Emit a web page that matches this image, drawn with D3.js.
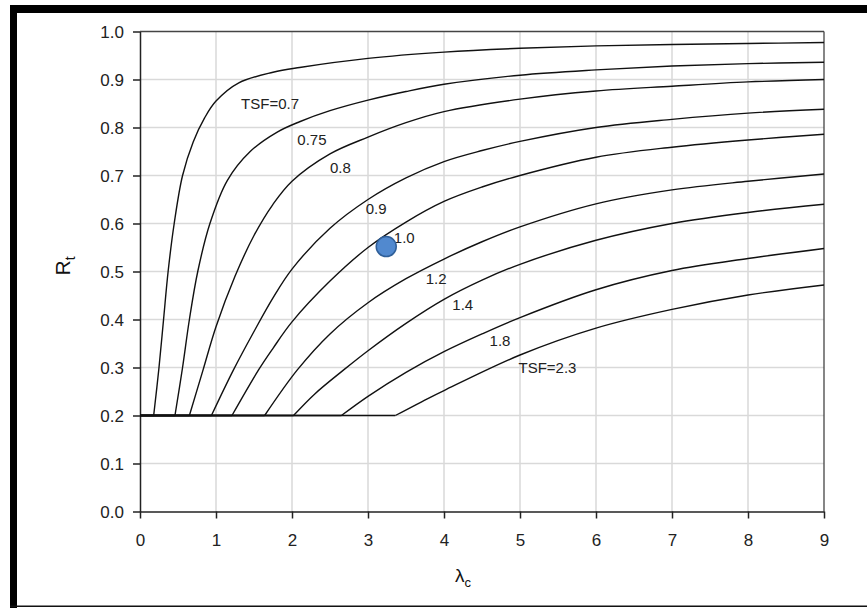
<!DOCTYPE html>
<html>
<head>
<meta charset="utf-8">
<script src="https://cdn.jsdelivr.net/npm/d3@7/dist/d3.min.js"></script>
<style>
  html, body { margin: 0; padding: 0; background: #fff; }
  svg { display: block; font-family: "Liberation Sans", Arial, sans-serif; }
</style>
</head>
<body>
<svg id="chart" width="867" height="608"></svg>
<script>
// ---- data ----
const tsfLabels = ["0.7", "0.75", "0.8", "0.9", "1.0", "1.2", "1.4", "1.8", "2.3"];
const curve07  = [[0,0.2],[0.18,0.2],[0.25,0.3],[0.31,0.4],[0.37,0.5],[0.45,0.6],[0.56,0.7],[0.7,0.77],[0.85,0.82],[1.0,0.855],[1.3,0.893],[1.75,0.915],[2.1,0.925],[3,0.944],[4,0.957],[5,0.965],[6,0.97],[7,0.973],[8,0.975],[9,0.977]];
const curve075 = [[0,0.2],[0.46,0.2],[0.56,0.3],[0.65,0.4],[0.76,0.5],[0.92,0.6],[1.15,0.69],[1.45,0.75],[1.8,0.79],[2.1,0.812],[2.5,0.835],[3,0.857],[3.5,0.875],[4,0.89],[5,0.909],[6,0.92],[7,0.928],[8,0.933],[9,0.936]];
const curve08  = [[0,0.2],[0.65,0.2],[0.83,0.295],[1.0,0.385],[1.25,0.49],[1.5,0.575],[1.75,0.64],[2,0.688],[2.5,0.745],[3,0.78],[3.5,0.81],[4,0.833],[5,0.859],[6,0.876],[7,0.886],[8,0.895],[9,0.9]];
const curve09  = [[0,0.2],[0.94,0.2],[1.23,0.295],[1.5,0.375],[1.75,0.445],[2,0.505],[2.5,0.59],[3,0.65],[3.5,0.695],[4,0.729],[4.5,0.752],[5,0.771],[6,0.80],[7,0.817],[8,0.83],[9,0.838]];
const curve10  = [[0,0.2],[1.21,0.2],[1.56,0.295],[1.75,0.34],[2,0.395],[2.5,0.48],[3,0.55],[3.5,0.603],[4,0.646],[4.5,0.676],[5,0.70],[6,0.738],[7,0.759],[8,0.774],[9,0.786]];
const curve12  = [[0,0.2],[1.64,0.2],[2.07,0.295],[2.5,0.37],[3,0.435],[3.5,0.485],[4,0.526],[4.5,0.562],[5,0.593],[6,0.641],[7,0.67],[8,0.688],[9,0.703]];
const curve14  = [[0,0.2],[2.02,0.2],[2.3,0.245],[2.68,0.295],[3,0.335],[3.5,0.392],[4,0.442],[4.5,0.482],[5,0.515],[6,0.565],[7,0.60],[8,0.623],[9,0.64]];
const curve18  = [[0,0.2],[2.65,0.2],[3,0.24],[3.5,0.29],[4,0.333],[4.5,0.37],[5,0.404],[6,0.462],[7,0.502],[8,0.527],[9,0.548]];
const curve23  = [[0,0.2],[3.36,0.2],[3.82,0.238],[4,0.252],[5,0.326],[6,0.382],[7,0.421],[8,0.451],[9,0.472]];
const curves = [curve07, curve075, curve08, curve09, curve10, curve12, curve14, curve18, curve23];

// curve labels: text and anchor position in data units (left edge, baseline)
const labelTexts = ["TSF=0.7", "0.75", "0.8", "0.9", "1.0", "1.2", "1.4", "1.8", "TSF=2.3"];
const labelX = [1.33, 2.07, 2.50, 2.97, 3.34, 3.76, 4.11, 4.60, 4.98];
const labelY = [0.838, 0.763, 0.706, 0.620, 0.560, 0.475, 0.420, 0.345, 0.288];

const pointX = [3.24];
const pointY = [0.552];

const xTicks = [0,1,2,3,4,5,6,7,8,9];
const yTicks = [0,0.1,0.2,0.3,0.4,0.5,0.6,0.7,0.8,0.9,1.0];

// ---- drawing ----
const svg = d3.select("#chart");
const L = 140, R = 824, T = 31.5, B = 511.5;
const x = d3.scaleLinear().domain([0, 9]).range([L, R]);
const y = d3.scaleLinear().domain([0, 1]).range([B, T]);

// outer frame
svg.append("rect").attr("x", 10).attr("y", 5).attr("width", 7).attr("height", 603).attr("fill", "#000");
svg.append("rect").attr("x", 10).attr("y", 5).attr("width", 857).attr("height", 8).attr("fill", "#000");
svg.append("rect").attr("x", 10).attr("y", 605.5).attr("width", 857).attr("height", 1.5).attr("fill", "#111");

// gridlines
const grid = svg.append("g");
grid.selectAll("line.vx").data(xTicks.slice(1, -1)).enter().append("line")
  .attr("x1", d => x(d)).attr("x2", d => x(d)).attr("y1", T).attr("y2", B)
  .attr("stroke", "#d9d9d9").attr("stroke-width", 1.5);
grid.selectAll("line.hy").data(yTicks.slice(1, -1)).enter().append("line")
  .attr("x1", L).attr("x2", R).attr("y1", d => y(d)).attr("y2", d => y(d))
  .attr("stroke", "#d9d9d9").attr("stroke-width", 1.5);

// plot frame top/right
svg.append("line").attr("x1", L).attr("x2", R).attr("y1", T).attr("y2", T).attr("stroke", "#444").attr("stroke-width", 1.3);
svg.append("line").attr("x1", R).attr("x2", R).attr("y1", T).attr("y2", B).attr("stroke", "#444").attr("stroke-width", 1.3);

// axes
const xAxis = svg.append("g").attr("transform", `translate(0,${B})`)
  .call(d3.axisBottom(x).tickValues(xTicks).tickFormat(d3.format("d")).tickSize(7).tickSizeOuter(0));
const yAxis = svg.append("g").attr("transform", `translate(${L},0)`)
  .call(d3.axisLeft(y).tickValues(yTicks).tickFormat(d3.format(".1f")).tickSize(7).tickSizeOuter(0));
[xAxis, yAxis].forEach(g => {
  g.select(".domain").attr("stroke", "#222").attr("stroke-width", 1.5);
  g.selectAll(".tick line").attr("stroke", "#222").attr("stroke-width", 1.5);
  g.selectAll(".tick text").attr("fill", "#222").style("font-size", "17px").style("font-family", "Liberation Sans, Arial, sans-serif");
});
xAxis.selectAll(".tick text").attr("dy", "0").attr("y", 34);
yAxis.selectAll(".tick text").attr("x", -16).attr("dy", "0.35em");

// curves: flat start (straight) + smooth rising part
const flat = d3.line().x(d => x(d[0])).y(d => y(d[1]));
const smooth = d3.line().x(d => x(d[0])).y(d => y(d[1])).curve(d3.curveCatmullRom.alpha(0.5));
const cg = svg.append("g");
cg.selectAll("path.flat").data(curves).enter().append("path")
  .attr("d", d => flat(d.slice(0, 2))).attr("fill", "none").attr("stroke", "#111").attr("stroke-width", 1.4);
cg.selectAll("path.rise").data(curves).enter().append("path")
  .attr("d", d => smooth(d.slice(1))).attr("fill", "none").attr("stroke", "#111").attr("stroke-width", 1.4);

// curve labels
svg.append("g").selectAll("text").data(labelTexts).enter().append("text")
  .attr("x", (d, i) => x(labelX[i])).attr("y", (d, i) => y(labelY[i]))
  .attr("fill", "#222").style("font-size", "15px").text(d => d);

// point
svg.append("g").selectAll("circle").data(pointX).enter().append("circle")
  .attr("cx", (d, i) => x(d)).attr("cy", (d, i) => y(pointY[i])).attr("r", 10)
  .attr("fill", "#5189cf").attr("stroke", "#2f5f99").attr("stroke-width", 1.5);

// axis titles
const yt = svg.append("text").attr("transform", "translate(70,266) rotate(-90)")
  .attr("text-anchor", "middle").attr("fill", "#111").style("font-size", "21px");
yt.append("tspan").text("R");
yt.append("tspan").attr("dy", 5).style("font-size", "14px").text("t");

const xt = svg.append("text").attr("x", 463).attr("y", 582)
  .attr("text-anchor", "middle").attr("fill", "#111").style("font-size", "19px");
xt.append("tspan").text("λ");
xt.append("tspan").attr("dy", 5).style("font-size", "13px").text("c");
</script>
</body>
</html>
